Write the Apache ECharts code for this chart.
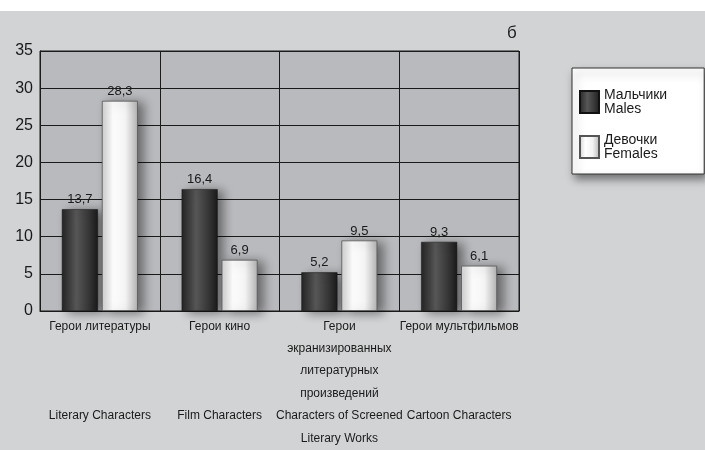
<!DOCTYPE html>
<html><head><meta charset="utf-8">
<script src="https://cdn.jsdelivr.net/npm/echarts@6/dist/echarts.min.js"></script>
<style>html,body{margin:0;padding:0;background:#fff}#c{width:705px;height:450px}</style>
</head><body><div id="c"></div>
<script>
// ---- data ----
const categoriesRu = [
  ["Герои литературы"],
  ["Герои кино"],
  ["Герои", "экранизированных", "литературных", "произведений"],
  ["Герои мультфильмов"]
];
const categoriesEn = [
  ["Literary Characters"],
  ["Film Characters"],
  ["Characters of Screened", "Literary Works"],
  ["Cartoon Characters"]
];
const malesName = ["Мальчики", "Males"];
const femalesName = ["Девочки", "Females"];
const males = [13.7, 16.4, 5.2, 9.3];
const females = [28.3, 6.9, 9.5, 6.1];
const yTicks = [0, 5, 10, 15, 20, 25, 30, 35];
const panelLetter = "б";

// ---- build ----
const NARROW = "'Liberation Sans', Arial, sans-serif";
const REG = "'Liberation Sans', Arial, sans-serif";
const catLabels = categoriesRu.map((ru, i) => {
  const lines = ru.slice();
  while (lines.length < 4) lines.push(" ");
  return lines.concat(categoriesEn[i]).join("\n");
});
const maleGrad = new echarts.graphic.LinearGradient(0, 0, 1, 0, [
  {offset: 0, color: '#242424'}, {offset: 0.4, color: '#575757'}, {offset: 0.75, color: '#363636'}, {offset: 1, color: '#1a1a1a'}
]);
const femaleGrad = new echarts.graphic.LinearGradient(0, 0, 1, 0, [
  {offset: 0, color: '#cfcfcf'}, {offset: 0.3, color: '#ffffff'}, {offset: 0.65, color: '#f3f3f3'}, {offset: 1, color: '#b3b3b3'}
]);
const fmt = p => String(p.value).replace('.', ',');
const labelCfg = {show: true, position: 'top', distance: 3, formatter: fmt,
  fontFamily: NARROW, fontSize: 13, color: '#1a1a1a'};

const chart = echarts.init(document.getElementById('c'));
chart.setOption({
  backgroundColor: '#d2d3d5',
  animation: false,
  title: {text: panelLetter, left: 502, top: 20,
    textStyle: {fontFamily: REG, fontSize: 17, fontWeight: 'normal', color: '#222'}},
  graphic: [{type: 'rect', shape: {x: 0, y: 0, width: 705, height: 11}, style: {fill: '#fff'}, silent: true}],
  grid: {left: 40, right: 186, top: 51, bottom: 139, show: true,
    backgroundColor: '#b9babd', borderColor: '#1a1a1a', borderWidth: 1},
  legend: {
    orient: 'vertical', left: 572, top: 68,
    padding: [20, 37, 13, 7], itemGap: 17, itemWidth: 19, itemHeight: 22,
    icon: 'rect',
    backgroundColor: '#ffffff', borderColor: '#333', borderWidth: 1,
    shadowBlur: 8, shadowColor: 'rgba(0,0,0,0.45)', shadowOffsetX: 3, shadowOffsetY: 5,
    textStyle: {fontFamily: NARROW, fontSize: 14, lineHeight: 14, color: '#1a1a1a'},
    data: [malesName.join("\n"), femalesName.join("\n")]
  },
  xAxis: {
    type: 'category', data: catLabels,
    axisLine: {lineStyle: {color: '#1a1a1a', width: 1}},
    axisTick: {show: false},
    splitLine: {show: true, lineStyle: {color: '#1a1a1a', width: 1}},
    axisLabel: {interval: 0, margin: 4, fontFamily: NARROW, fontSize: 12, lineHeight: 22.4, color: '#1a1a1a'}
  },
  yAxis: {
    type: 'value', min: yTicks[0], max: yTicks[yTicks.length - 1], interval: yTicks[1] - yTicks[0],
    axisLine: {show: true, lineStyle: {color: '#1a1a1a'}},
    axisTick: {show: false},
    splitLine: {show: true, lineStyle: {color: '#1a1a1a', width: 1}},
    axisLabel: {margin: 7, fontFamily: REG, fontSize: 16, color: '#1a1a1a'}
  },
  series: [
    {name: malesName.join("\n"), type: 'bar', data: males, barWidth: 36, barGap: '11%',
      itemStyle: {color: maleGrad, borderColor: '#111', borderWidth: 0.5,
        shadowBlur: 10, shadowColor: 'rgba(0,0,0,0.45)', shadowOffsetX: 6, shadowOffsetY: 2},
      label: labelCfg},
    {name: femalesName.join("\n"), type: 'bar', data: females, barWidth: 36,
      itemStyle: {color: femaleGrad, borderColor: '#555', borderWidth: 0.8,
        shadowBlur: 10, shadowColor: 'rgba(0,0,0,0.45)', shadowOffsetX: 6, shadowOffsetY: 2},
      label: labelCfg}
  ]
});
</script></body></html>
